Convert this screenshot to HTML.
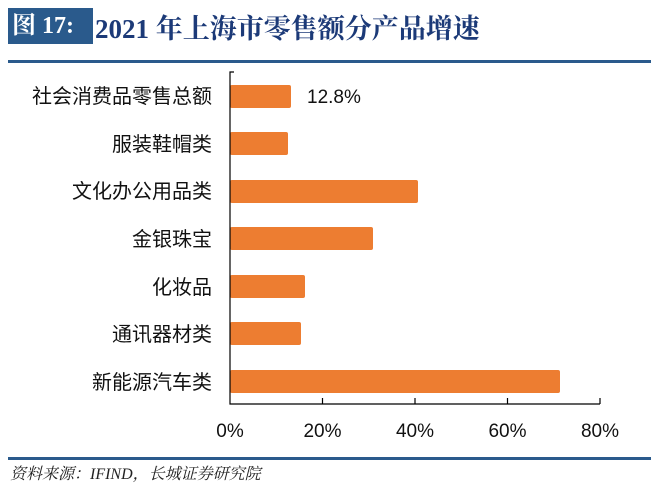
<!DOCTYPE html>
<html><head><meta charset="utf-8"><style>
body{margin:0;background:#fff;width:667px;height:490px;overflow:hidden;position:relative;font-family:"Liberation Sans","Noto Sans CJK SC",sans-serif}
.box{position:absolute;left:8px;top:8px;width:85px;height:36px;background:#2a5a8c;color:#fff;font:bold 24px "Liberation Serif","Noto Serif CJK SC",serif;line-height:36px;padding-left:4px;box-sizing:border-box}
.title{position:absolute;left:95px;top:7px;height:38px;line-height:38px;color:#1c3a78;font:bold 27px "Liberation Serif","Noto Serif CJK SC",serif}
.line{position:absolute;left:8px;width:643px;height:3px;background:#2a5a8c}
.src{position:absolute;left:10px;top:461px;font:italic 16px "Liberation Serif","Noto Serif CJK SC",serif;color:#222}
</style></head><body>
<div class="box">图 17:</div>
<div class="title">2021 年上海市零售额分产品增速</div>
<div class="line" style="top:60px"></div>
<div class="line" style="top:457px"></div>
<div class="src">资料来源：IFIND，长城证券研究院</div>
<svg width="667" height="490" style="position:absolute;left:0;top:0" font-family="Liberation Sans, Noto Sans CJK SC, sans-serif">
<g fill="#ed7d31">
<rect x="230" y="85" width="61" height="23" rx="2"/>
<rect x="230" y="132" width="58" height="23" rx="2"/>
<rect x="230" y="180" width="188" height="23" rx="2"/>
<rect x="230" y="227" width="143" height="23" rx="2"/>
<rect x="230" y="275" width="75" height="23" rx="2"/>
<rect x="230" y="322" width="71" height="23" rx="2"/>
<rect x="230" y="370" width="330" height="23" rx="2"/>
</g>
<g stroke="#000" stroke-width="1.2" fill="none">
<path d="M234 72H230V404H600"/>
<path d="M322.5 398V404M415 398V404M507.5 398V404M600 398V404"/>
</g>
<g font-size="20" fill="#111" text-anchor="end">
<text x="212" y="103">社会消费品零售总额</text>
<text x="212" y="151">服装鞋帽类</text>
<text x="212" y="198">文化办公用品类</text>
<text x="212" y="246">金银珠宝</text>
<text x="212" y="294">化妆品</text>
<text x="212" y="341">通讯器材类</text>
<text x="212" y="389">新能源汽车类</text>
</g>
<text x="307" y="103" font-size="19" fill="#111">12.8%</text>
<g font-size="19" fill="#111" text-anchor="middle">
<text x="230" y="437">0%</text>
<text x="322.5" y="437">20%</text>
<text x="415" y="437">40%</text>
<text x="507.5" y="437">60%</text>
<text x="600" y="437">80%</text>
</g>
</svg>
</body></html>
